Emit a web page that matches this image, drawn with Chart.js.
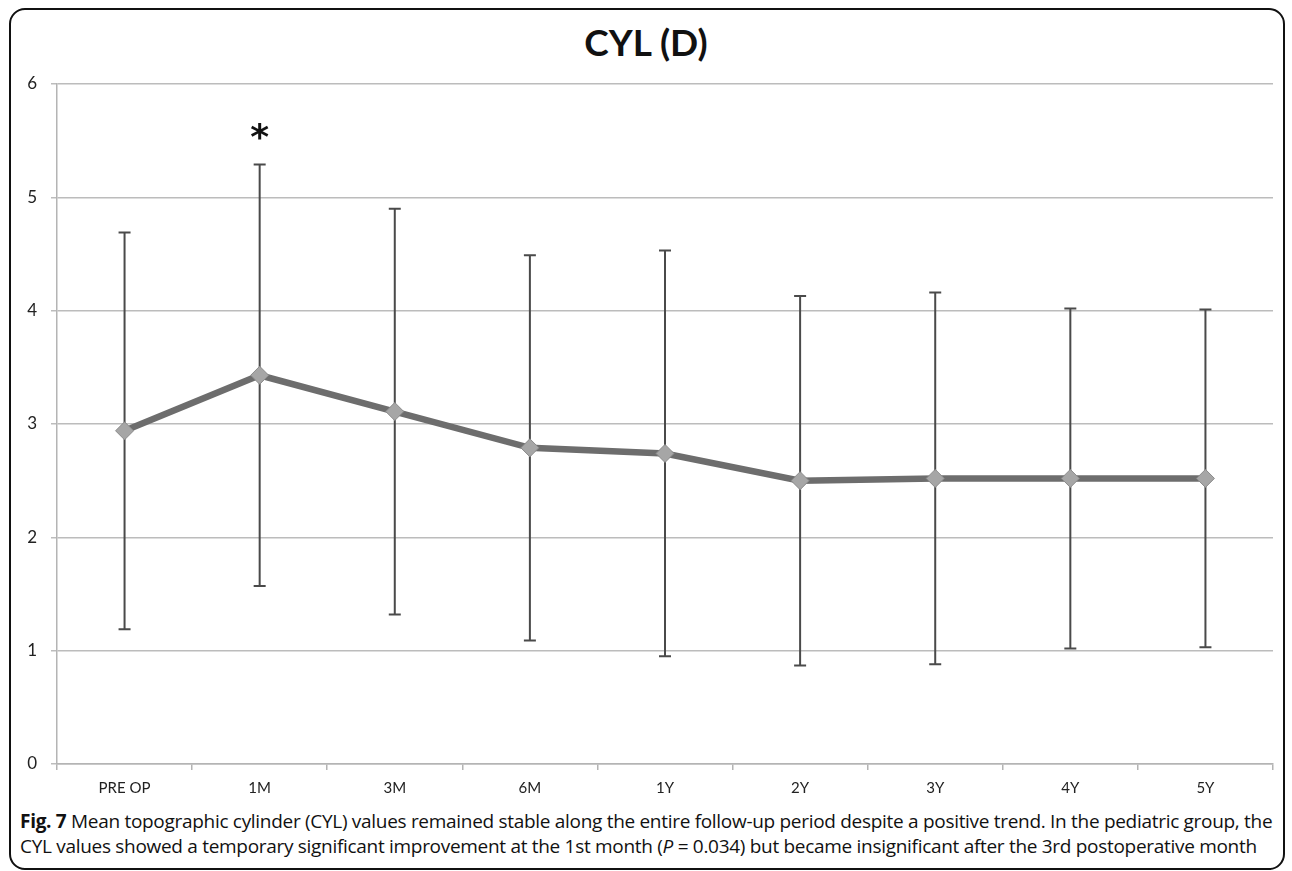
<!DOCTYPE html>
<html>
<head>
<meta charset="utf-8">
<script src="https://cdn.jsdelivr.net/npm/chart.js@4.4.1/dist/chart.umd.min.js"></script>
<style>
  body { margin: 0; background: #fff; }
  #frame { position: absolute; left: 9px; top: 8px; width: 1272px; height: 858px;
           border: 2px solid #111; border-radius: 16px; }
  #title { position: absolute; left: 0; top: 20px; width: 1292px; text-align: center;
           font-family: Lato, sans-serif; font-weight: bold; font-size: 37px; line-height: 44px; color: #111; }
  #wrap { position: absolute; left: 0; top: 0; width: 1292px; height: 800px; }
  #caption { position: absolute; left: 20px; top: 809px; font-family: "Open Sans", sans-serif;
             font-size: 19px; line-height: 25px; color: #111; white-space: nowrap; letter-spacing: -0.3px; }
</style>
</head>
<body>
<div id="frame"></div>
<div id="title">CYL (D)</div>
<div id="wrap"><canvas id="cyl"></canvas></div>
<div id="caption">
  <div><b>Fig. 7</b> Mean topographic cylinder (CYL) values remained stable along the entire follow-up period despite a positive trend. In the pediatric group, the</div>
  <div>CYL values showed a temporary significant improvement at the 1st month (<i>P</i> = 0.034) but became insignificant after the 3rd postoperative month</div>
</div>
<script>
const labels = ["PRE OP", "1M", "3M", "6M", "1Y", "2Y", "3Y", "4Y", "5Y"];
const cylMean = [2.94, 3.43, 3.11, 2.79, 2.74, 2.50, 2.52, 2.52, 2.52];
const cylSD = [1.75, 1.86, 1.79, 1.70, 1.79, 1.63, 1.64, 1.50, 1.49];
const starIndex = 1;
const starValue = 5.57;

// error bars drawn under the line + markers
const errorBars = {
  id: 'errorBars',
  beforeDatasetsDraw(chart) {
    const ctx = chart.ctx;
    const xs = chart.scales.x, ys = chart.scales.y;
    ctx.save();
    ctx.strokeStyle = '#4a4a4a';
    ctx.lineWidth = 2;
    cylMean.forEach((m, i) => {
      const x = xs.getPixelForValue(i);
      const top = ys.getPixelForValue(m + cylSD[i]);
      const bot = ys.getPixelForValue(m - cylSD[i]);
      ctx.beginPath();
      ctx.moveTo(x, top); ctx.lineTo(x, bot);
      ctx.moveTo(x - 6, top); ctx.lineTo(x + 6, top);
      ctx.moveTo(x - 6, bot); ctx.lineTo(x + 6, bot);
      ctx.stroke();
    });
    ctx.restore();
  },
  afterDatasetsDraw(chart) {
    const ctx = chart.ctx;
    const x = chart.scales.x.getPixelForValue(starIndex);
    const y = chart.scales.y.getPixelForValue(starValue);
    ctx.save();
    ctx.fillStyle = '#111';
    ctx.font = 'bold 36px "DejaVu Sans"';
    ctx.textAlign = 'center';
    ctx.textBaseline = 'middle';
    ctx.fillText('*', x, y + 7);
    ctx.restore();
  }
};

new Chart(document.getElementById('cyl'), {
  type: 'line',
  data: {
    labels: labels,
    datasets: [{
      label: 'CYL (D)',
      data: cylMean,
      borderColor: '#6d6d6d',
      borderWidth: 6.5,
      pointStyle: 'rectRot',
      pointRadius: 9,
      pointHoverRadius: 9,
      pointBackgroundColor: '#a6a6a6',
      pointBorderColor: '#8a8a8a',
      pointBorderWidth: 1,
      tension: 0
    }]
  },
  options: {
    responsive: true,
    maintainAspectRatio: false,
    animation: false,
    layout: { padding: { left: 0, right: 19, top: 84, bottom: 0 } },
    plugins: {
      legend: { display: false },
      tooltip: { enabled: false },
      title: { display: false }
    },
    scales: {
      x: {
        offset: true,
        grid: { offset: true, drawOnChartArea: false, tickLength: 6, color: '#b4b4b4', lineWidth: 1.5 },
        border: { color: '#b4b4b4', width: 1.5 },
        ticks: { color: '#222', padding: 9, font: { family: 'Lato', size: 15 } },
        afterFit(s) { s.height = 36; }
      },
      y: {
        min: 0, max: 6,
        ticks: { stepSize: 1, color: '#222', padding: 14, font: { family: 'Lato', size: 17 } },
        grid: { color: '#bcbcbc', lineWidth: 1.5, tickLength: 6 },
        border: { color: '#b4b4b4', width: 1.5 },
        afterFit(s) { s.width = 57; }
      }
    }
  },
  plugins: [errorBars]
});
</script>
</body>
</html>
